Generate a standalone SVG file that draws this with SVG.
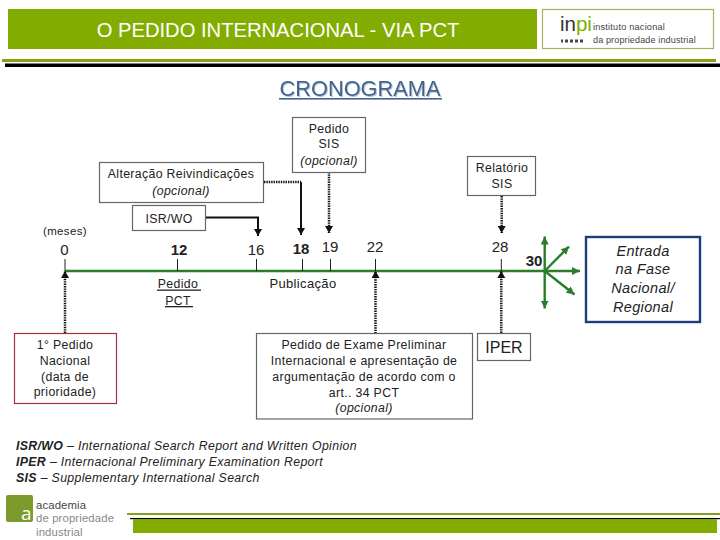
<svg xmlns="http://www.w3.org/2000/svg" width="720" height="540" viewBox="0 0 720 540">
<style>
text{font-family:"Liberation Sans",Arial,sans-serif;fill:#222;font-size:12.3px;letter-spacing:.35px}
.c{text-anchor:middle}
.i{font-style:italic}
.b{font-weight:bold}
.n{font-size:15px;letter-spacing:0}
.box{fill:#fff;stroke:#666;stroke-width:1.2}
.con{fill:none;stroke:#111;stroke-width:2}
.dot{fill:none;stroke:#111;stroke-width:2.5;stroke-dasharray:1.4 1}
.tick{stroke:#222;stroke-width:1}
.gr{fill:none;stroke:#2a7d2a;stroke-width:2.4}
.ac{font-size:11.3px;letter-spacing:.15px}
</style>
<defs>
<marker id="ak" markerUnits="userSpaceOnUse" markerWidth="10" markerHeight="10" refX="7" refY="4" orient="auto"><path d="M0 0L7 4L0 8z" fill="#111"/></marker>
<marker id="ag" markerUnits="userSpaceOnUse" markerWidth="10" markerHeight="10" refX="8" refY="4" orient="auto"><path d="M0 0L8 4L0 8z" fill="#2a7d2a"/></marker>
<filter id="sh" x="-5%" y="-20%" width="110%" height="150%"><feDropShadow dx="1" dy="1" stdDeviation=".3" flood-color="#b4bfcc"/></filter>
</defs>
<rect width="720" height="540" fill="#fff"/>
<g id="header">
<rect x="8" y="9" width="529" height="40" fill="#82ad00"/>
<text x="278" y="37" class="c" style="font-size:20.2px;fill:#fff;letter-spacing:0">O PEDIDO INTERNACIONAL - VIA PCT</text>
<rect x="2" y="59" width="714" height="3" fill="#86a01e"/>
<rect x="5" y="63.5" width="715" height="3.5" fill="#000"/>
</g>
<g id="logo-inpi">
<rect x="542.5" y="9.5" width="171" height="39" fill="#fff" stroke="#a8b060" stroke-width="1.2"/>
<text x="560" y="31" style="font-size:20.5px;letter-spacing:0;fill:#333">in<tspan style="fill:#82ad00">pi</tspan></text>
<path d="M561 41h2m2 0h3m2 0h3m2 0h3m2 0h3" stroke="#444" stroke-width="3" fill="none"/>
<text x="593" y="30" style="font-size:9.2px;letter-spacing:.2px;fill:#444">instituto nacional</text>
<text x="593" y="43" style="font-size:9px;letter-spacing:.15px;fill:#444">da propriedade industrial</text>
</g>
<g id="title">
<text x="360" y="96" class="c" filter="url(#sh)" style="font-size:21.8px;fill:#3f6490;letter-spacing:0">CRONOGRAMA</text>
<rect x="279" y="98" width="163" height="1.6" fill="#3f6490"/>
</g>
<g id="connectors">
<path class="gr" d="M65 271H580" marker-end="url(#ag)"/>
<path class="gr" d="M544.7 271V236.5" marker-end="url(#ag)"/>
<path class="gr" d="M544.7 271V308.5" marker-end="url(#ag)"/>
<path class="gr" d="M544.7 271L569 246.5" marker-end="url(#ag)"/>
<path class="gr" d="M544.7 271L574.5 294.5" marker-end="url(#ag)"/>
<path class="tick" d="M65 259V271M177.5 259V271M256.5 259V271M302.5 259V271M330.5 259V271M375.5 259V271M501.3 259V271"/>
<path class="con" d="M205.5 217.5H258V236" marker-end="url(#ak)"/>
<path class="dot" d="M264 182H301"/>
<path class="con" d="M301 182V235" marker-end="url(#ak)"/>
<path class="dot" d="M329 172V233" marker-end="url(#ak)"/>
<path class="dot" d="M501.7 196V233" marker-end="url(#ak)"/>
<path class="dot" d="M65 333V271" marker-end="url(#ak)"/>
<path class="dot" d="M375.5 333.5V271" marker-end="url(#ak)"/>
<path class="dot" d="M501.3 333V271" marker-end="url(#ak)"/>
</g>
<g id="alteracao">
<rect class="box" x="99.5" y="162.5" width="164" height="40"/>
<text x="181" y="178" class="c">Alteração Reivindicações</text>
<text x="181" y="195" class="c i">(opcional)</text>
</g>
<g id="isrwo">
<rect class="box" x="132.5" y="205.5" width="73" height="25"/>
<text x="169" y="223" class="c">ISR/WO</text>
</g>
<g id="sis">
<rect class="box" x="292.5" y="117.5" width="73" height="55"/>
<text x="329" y="133" class="c">Pedido</text>
<text x="329" y="148" class="c">SIS</text>
<text x="329" y="165" class="c i">(opcional)</text>
</g>
<g id="relatorio">
<rect class="box" x="467.5" y="156.5" width="68" height="39"/>
<text x="502" y="172" class="c">Relatório</text>
<text x="502" y="188" class="c">SIS</text>
</g>
<g id="labels">
<text x="65" y="235" class="c" style="font-size:11.5px">(meses)</text>
<text x="64.5" y="255" class="c n">0</text>
<text x="179" y="255" class="c n b">12</text>
<text x="256" y="255" class="c n">16</text>
<text x="301" y="253.5" class="c n b">18</text>
<text x="330" y="252" class="c n">19</text>
<text x="375" y="252" class="c n">22</text>
<text x="500" y="252" class="c n">28</text>
<text x="534" y="266" class="c n b">30</text>
<text x="178" y="288" class="c">Pedido</text>
<rect x="157" y="289.5" width="44" height="1.3" fill="#222"/>
<text x="178" y="305" class="c">PCT</text>
<rect x="165" y="306" width="28" height="1.3" fill="#222"/>
<text x="303" y="288" class="c" style="font-size:13px">Publicação</text>
</g>
<g id="prioridade">
<rect x="14.5" y="333.5" width="102" height="70" fill="#fff" stroke="#a83040" stroke-width="1.2"/>
<text x="65" y="349" class="c">1° Pedido</text>
<text x="65" y="365" class="c">Nacional</text>
<text x="65" y="381" class="c">(data de</text>
<text x="65" y="396" class="c">prioridade)</text>
</g>
<g id="exame">
<rect class="box" x="256.5" y="333.5" width="216" height="85.5"/>
<text x="364" y="349" class="c">Pedido de Exame Preliminar</text>
<text x="364" y="365" class="c">Internacional e apresentação de</text>
<text x="364" y="381" class="c">argumentação de acordo com o</text>
<text x="364" y="397" class="c">art.. 34 PCT</text>
<text x="364" y="412" class="c i">(opcional)</text>
</g>
<g id="iper">
<rect class="box" x="477.5" y="333.5" width="53" height="27"/>
<text x="504" y="352.5" class="c" style="font-size:16px;letter-spacing:0">IPER</text>
</g>
<g id="entrada">
<rect x="586" y="237" width="114" height="85" fill="#fff" stroke="#1f3d7a" stroke-width="2.4"/>
<text x="643" y="255.5" class="c i" style="font-size:14.5px">Entrada</text>
<text x="643" y="274" class="c i" style="font-size:14.5px">na Fase</text>
<text x="643" y="293" class="c i" style="font-size:14.5px">Nacional/</text>
<text x="643" y="312" class="c i" style="font-size:14.5px">Regional</text>
</g>
<g id="legenda">
<text x="16" y="450" class="i"><tspan class="b">ISR/WO</tspan> – International Search Report and Written Opinion</text>
<text x="16" y="466" class="i"><tspan class="b">IPER</tspan> – Internacional Preliminary Examination Report</text>
<text x="16" y="482" class="i"><tspan class="b">SIS</tspan> – Supplementary International Search</text>
</g>
<g id="academia">
<rect x="6" y="495" width="27" height="27" rx="2" fill="#7d9a2c"/>
<text x="21" y="520" style="font-family:'Open Sans',sans-serif;font-size:19px;fill:#fff;letter-spacing:0">a</text>
<text x="36" y="508.5" class="ac" style="fill:#444">academia</text>
<text x="36" y="522" class="ac" style="fill:#888">de propriedade</text>
<text x="36" y="535.5" class="ac" style="fill:#888">industrial</text>
</g>
<g id="footer">
<rect x="127" y="513" width="593" height="2" fill="#86a01e"/>
<rect x="130" y="518" width="590" height="1.2" fill="#000"/>
<rect x="133" y="519" width="584" height="14" fill="#82ad00"/>
</g>
</svg>
